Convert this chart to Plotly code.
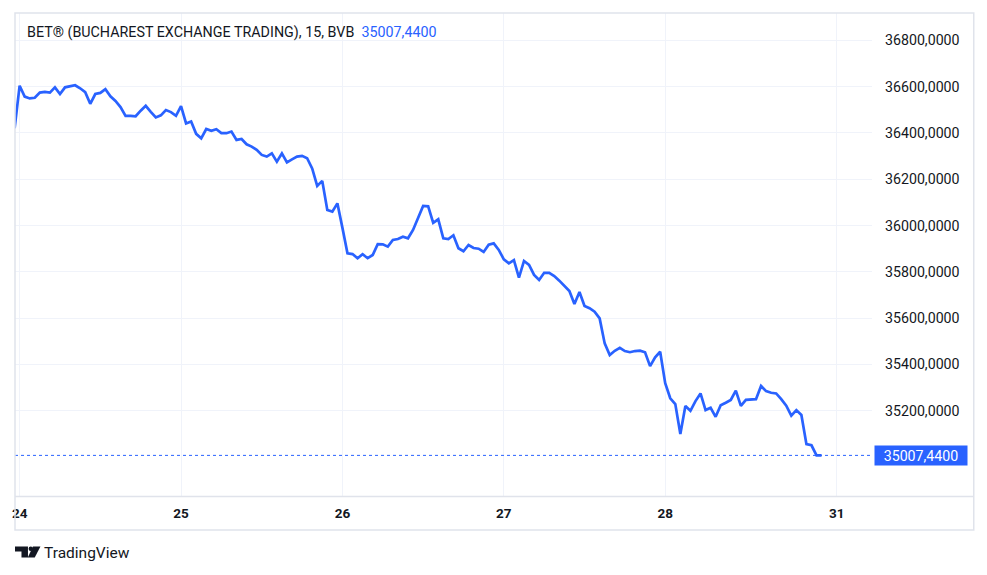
import plotly.graph_objects as go

# ---- data (15-minute bars, BET index) ----
prev_day_close = [36420]
day24 = [36604, 36557, 36549, 36552, 36574, 36577, 36574, 36597, 36568, 36597, 36600, 36606,
         36593, 36576, 36526, 36568, 36573, 36589, 36558, 36538, 36512, 36474, 36474, 36472,
         36496, 36517, 36491, 36467, 36476, 36499, 36490, 36474]
day25 = [36516, 36441, 36449, 36396, 36377, 36417, 36409, 36416, 36399, 36399, 36406, 36370,
         36374, 36351, 36341, 36327, 36305, 36298, 36312, 36276, 36312, 36273, 36286, 36298,
         36301, 36291, 36247, 36171, 36193, 36067, 36060, 36096]
day26 = [35990, 35880, 35877, 35859, 35876, 35859, 35873, 35920, 35919, 35909, 35938, 35942,
         35952, 35945, 35981, 36031, 36085, 36083, 36012, 36027, 35945, 35942, 35958, 35902,
         35889, 35916, 35903, 35900, 35886, 35917, 35923, 35895]
day27 = [35854, 35837, 35851, 35775, 35847, 35830, 35787, 35765, 35796, 35796, 35782, 35762,
         35740, 35717, 35661, 35713, 35653, 35643, 35628, 35599, 35491, 35441, 35459, 35472,
         35458, 35453, 35458, 35460, 35453, 35393, 35431, 35455]
day28 = [35319, 35254, 35229, 35100, 35221, 35200, 35242, 35275, 35203, 35213, 35174, 35224,
         35235, 35247, 35287, 35221, 35247, 35247, 35250, 35307, 35285, 35278, 35275, 35250,
         35222, 35179, 35203, 35182, 35056, 35051, 35007.44, 35007.44]

values = prev_day_close + day24 + day25 + day26 + day27 + day28
bar_index = list(range(len(values)))

day_tick_bars = [1, 33, 65, 97, 129, 163]
day_tick_labels = ["24", "25", "26", "27", "28", "31"]

price_ticks = [35200, 35400, 35600, 35800, 36000, 36200, 36400, 36600, 36800]
price_tick_labels = ["35200,0000", "35400,0000", "35600,0000", "35800,0000", "36000,0000",
                     "36200,0000", "36400,0000", "36600,0000", "36800,0000"]

title_text = "BET® (BUCHAREST EXCHANGE TRADING), 15, BVB"

last_value = values[-1]
last_label = f"{last_value:.4f}".replace(".", ",")

BLUE = "#2962ff"
DARK = "#131722"
GRID = "#f0f3fa"
BORDER = "#e0e3eb"
FONT = "Roboto"

W, H = 987, 575
L, R, T, B = 13, 872, 13, 496


def px(x):
    return (x - L) / (R - L)


def py(y):
    return (B - y) / (B - T)


fig = go.Figure()
fig.add_trace(go.Scatter(
    x=bar_index, y=values, mode="lines",
    line=dict(color=BLUE, width=2.7),
    hoverinfo="skip", showlegend=False,
))

shapes = []
# last price dotted line
shapes.append(dict(type="line", xref="paper", yref="y", x0=0, x1=1, y0=last_value, y1=last_value,
                   line=dict(color=BLUE, width=1, dash="dot")))
# outer border
shapes.append(dict(type="rect", xref="paper", yref="paper", x0=px(13), x1=px(974), y0=py(13), y1=py(530),
                   line=dict(color=BORDER, width=1.5), layer="above"))
# time axis separator
shapes.append(dict(type="line", xref="paper", yref="paper", x0=px(13), x1=px(974), y0=py(496.5), y1=py(496.5),
                   line=dict(color=BORDER, width=1.5)))


def path(points):
    return "M " + " L ".join(f"{px(a):.5f},{py(b):.5f}" for a, b in points) + " Z"


# TradingView logo
shapes.append(dict(type="path", xref="paper", yref="paper",
                   path=path([(13, 546.5), (26, 546.5), (26, 557.5), (19.5, 557.5), (19.5, 551.5), (13, 551.5)]),
                   fillcolor=DARK, line=dict(width=0)))
shapes.append(dict(type="circle", xref="paper", yref="paper",
                   x0=px(26.6), x1=px(31.0), y0=py(546.5), y1=py(550.9),
                   fillcolor=DARK, line=dict(width=0)))
shapes.append(dict(type="path", xref="paper", yref="paper",
                   path=path([(31.0, 546.5), (38.5, 546.5), (32.8, 557.5), (25.8, 557.5)]),
                   fillcolor=DARK, line=dict(width=0)))

annotations = [
    dict(xref="paper", yref="paper", x=px(23), y=py(32), xanchor="left", yanchor="middle",
         text=f"{title_text}  <span style='color:{BLUE}'>{last_label}</span>",
         showarrow=False, font=dict(family=FONT, size=14.3, color=DARK)),
    dict(xref="paper", yref="y", x=px(874), y=last_value, xanchor="left", yanchor="middle",
         text=last_label, showarrow=False, bgcolor=BLUE, width=90, height=17, borderpad=1,
         align="center", font=dict(family=FONT, size=14.2, color="white")),
    dict(xref="paper", yref="paper", x=px(40), y=py(552.5), xanchor="left", yanchor="middle",
         text="TradingView", showarrow=False, font=dict(family=FONT, size=15.5, color=DARK)),
]

fig.update_layout(
    width=W, height=H,
    margin=dict(l=L, r=W - R, t=T, b=H - B, pad=0),
    paper_bgcolor="white", plot_bgcolor="white",
    shapes=shapes, annotations=annotations,
    showlegend=False,
    xaxis=dict(
        range=[0.08, 170.0], tickmode="array", tickvals=day_tick_bars,
        ticktext=[f"<b>{t}</b>" for t in day_tick_labels],
        showgrid=True, gridcolor=GRID, gridwidth=1, zeroline=False, showline=False,
        ticks="", ticklabelstandoff=7,
        tickfont=dict(family=FONT, size=13.5, color=DARK), fixedrange=True,
    ),
    yaxis=dict(
        side="right", range=[34832, 36918], tickmode="array", tickvals=price_ticks,
        ticktext=price_tick_labels, showgrid=True, gridcolor=GRID, gridwidth=1,
        zeroline=False, showline=False, ticks="", ticklabelstandoff=12,
        tickfont=dict(family=FONT, size=14.2, color=DARK), fixedrange=True,
    ),
)

fig.write_html("out.html", config={"displayModeBar": False},
               post_script="document.body.style.margin='0';")
